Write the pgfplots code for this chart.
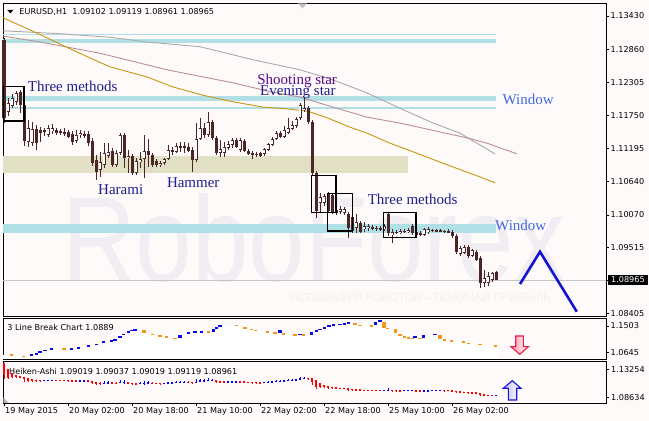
\documentclass[border=0pt]{standalone}
\usepackage{pgfplots}
\pgfplotsset{compat=1.18}
\usepackage{pgfplotstable}
\usepackage{fontspec}
\setmainfont{DejaVu Sans}
\newfontfamily\serfont{Liberation Serif}
\newfontfamily\wmfont{Liberation Sans}
\newcommand\tickfont{\fontsize{8.1bp}{9.7bp}\selectfont}
\definecolor{bgc}{HTML}{FFFAFA}
\definecolor{candle}{HTML}{4A2626}
\definecolor{cyanband}{HTML}{B0E0E6}
\definecolor{beige}{HTML}{E1E0C4}
\definecolor{maorange}{HTML}{C8960F}
\definecolor{marosy}{HTML}{BC8F8F}
\definecolor{magrey}{HTML}{A9A9A9}
\definecolor{navytxt}{HTML}{1E1E8C}
\definecolor{purptxt}{HTML}{5A0A8C}
\definecolor{wintxt}{HTML}{4169E1}
\definecolor{zig}{HTML}{1515D0}
\definecolor{hared}{HTML}{FF0000}
\definecolor{hablue}{HTML}{0000FF}
\definecolor{lborange}{HTML}{F7941E}
\definecolor{lbblue}{HTML}{0A0AE6}
\definecolor{wm}{HTML}{F0EEF2}
\definecolor{wm2}{HTML}{F5EFEF}

\pgfplotstableread{
i o h l c
0 1.13024 1.13058 1.11621 1.11706
1 1.11807 1.12044 1.11740 1.11959
2 1.11909 1.12111 1.11875 1.12044
3 1.11976 1.12162 1.11926 1.12128
4 1.12145 1.12179 1.11790 1.11926
5 1.11926 1.11993 1.11233 1.11317
6 1.11300 1.11672 1.11216 1.11537
7 1.11283 1.11638 1.11233 1.11520
8 1.11520 1.11588 1.11165 1.11283
9 1.11503 1.11554 1.11300 1.11452
10 1.11503 1.11537 1.11402 1.11469
11 1.11419 1.11588 1.11385 1.11537
12 1.11486 1.11604 1.11435 1.11537
13 1.11503 1.11537 1.11419 1.11460
14 1.11486 1.11520 1.11419 1.11452
15 1.11469 1.11537 1.11402 1.11452
16 1.11469 1.11503 1.11368 1.11385
17 1.11435 1.11486 1.11250 1.11300
18 1.11317 1.11503 1.11283 1.11419
19 1.11419 1.11503 1.11368 1.11452
20 1.11435 1.11486 1.11368 1.11402
21 1.11435 1.11486 1.11233 1.11283
22 1.11317 1.11368 1.10895 1.10945
23 1.10996 1.11081 1.10658 1.10793
24 1.10827 1.11131 1.10709 1.10962
25 1.10912 1.11283 1.10861 1.11114
26 1.11064 1.11283 1.11030 1.11131
27 1.11148 1.11199 1.10878 1.10912
28 1.10912 1.11165 1.10878 1.11114
29 1.11114 1.11452 1.11081 1.11419
30 1.11419 1.11452 1.10861 1.11030
31 1.11030 1.11165 1.10776 1.11064
32 1.11064 1.11097 1.10743 1.10776
33 1.10776 1.11030 1.10743 1.10979
34 1.10962 1.11131 1.10861 1.11013
35 1.11013 1.11419 1.10692 1.11148
36 1.11148 1.11351 1.10878 1.11081
37 1.11081 1.11114 1.10878 1.10912
38 1.10979 1.11013 1.10878 1.10912
39 1.10912 1.10979 1.10878 1.10945
40 1.10945 1.11030 1.10912 1.11013
41 1.11013 1.11250 1.10996 1.11165
42 1.11165 1.11216 1.11081 1.11131
43 1.11131 1.11283 1.11114 1.11233
44 1.11233 1.11300 1.11131 1.11199
45 1.11233 1.11300 1.11114 1.11199
46 1.11216 1.11283 1.11131 1.11148
47 1.11165 1.11216 1.10793 1.10996
48 1.10996 1.11621 1.10962 1.11351
49 1.11351 1.11706 1.11334 1.11537
50 1.11537 1.11621 1.11368 1.11419
51 1.11419 1.11807 1.11385 1.11638
52 1.11638 1.11672 1.11334 1.11368
53 1.11368 1.11402 1.11081 1.11114
54 1.11114 1.11334 1.11047 1.11182
55 1.11114 1.11300 1.11047 1.11216
56 1.11199 1.11317 1.11165 1.11266
57 1.11250 1.11368 1.11199 1.11334
58 1.11334 1.11368 1.11199 1.11216
59 1.11165 1.11368 1.11131 1.11334
60 1.11317 1.11351 1.11131 1.11148
61 1.11148 1.11182 1.11081 1.11097
62 1.11114 1.11148 1.11013 1.11081
63 1.11097 1.11131 1.11047 1.11081
64 1.11114 1.11131 1.11047 1.11064
65 1.11097 1.11199 1.11064 1.11182
66 1.11165 1.11283 1.11148 1.11266
67 1.11250 1.11385 1.11233 1.11351
68 1.11351 1.11486 1.11334 1.11452
69 1.11452 1.11486 1.11368 1.11385
70 1.11385 1.11571 1.11368 1.11503
71 1.11452 1.11706 1.11435 1.11537
72 1.11520 1.11655 1.11503 1.11588
73 1.11571 1.11723 1.11537 1.11689
74 1.11706 1.11959 1.11672 1.11926
75 1.11841 1.12061 1.11807 1.11875
76 1.11875 1.11909 1.11604 1.11638
77 1.11638 1.11672 1.10743 1.10776
78 1.10776 1.10810 1.10016 1.10134
79 1.10269 1.10438 1.10117 1.10371
80 1.10269 1.10421 1.10219 1.10388
81 1.10438 1.10455 1.10100 1.10134
82 1.10405 1.10438 1.10083 1.10117
83 1.10100 1.10202 1.10067 1.10151
84 1.10117 1.10219 1.10083 1.10168
85 1.10100 1.10202 1.10067 1.10168
86 1.10083 1.10117 1.09678 1.09847
87 1.10033 1.10083 1.09762 1.09796
88 1.09847 1.10083 1.09762 1.09948
89 1.09931 1.09965 1.09762 1.09779
90 1.09830 1.09948 1.09779 1.09881
91 1.09847 1.09914 1.09796 1.09881
92 1.09847 1.09898 1.09813 1.09855
93 1.09847 1.09881 1.09796 1.09838
94 1.09830 1.09881 1.09796 1.09847
95 1.09830 1.09914 1.09796 1.09881
96 1.10083 1.10117 1.09712 1.09762
97 1.09729 1.09830 1.09593 1.09779
98 1.09779 1.09813 1.09745 1.09771
99 1.09762 1.09830 1.09745 1.09796
100 1.09796 1.09830 1.09762 1.09788
101 1.09779 1.09847 1.09762 1.09813
102 1.09881 1.09914 1.09729 1.09762
103 1.09779 1.09813 1.09712 1.09729
104 1.09762 1.09796 1.09712 1.09729
105 1.09729 1.09847 1.09712 1.09830
106 1.09779 1.09864 1.09745 1.09830
107 1.09813 1.09830 1.09779 1.09804
108 1.09813 1.09830 1.09779 1.09796
109 1.09796 1.09830 1.09779 1.09804
110 1.09796 1.09813 1.09762 1.09788
111 1.09796 1.09830 1.09762 1.09779
112 1.09779 1.09813 1.09678 1.09712
113 1.09712 1.09745 1.09407 1.09441
114 1.09407 1.09543 1.09374 1.09509
115 1.09424 1.09560 1.09407 1.09526
116 1.09526 1.09560 1.09340 1.09374
117 1.09374 1.09492 1.09357 1.09475
118 1.09441 1.09475 1.09289 1.09306
119 1.09340 1.09374 1.08833 1.08917
120 1.08917 1.09137 1.08850 1.09002
121 1.08917 1.09103 1.08867 1.09036
122 1.08968 1.09103 1.08934 1.09086
123 1.09102 1.09119 1.08961 1.08965
}\candles

\pgfplotstableread{
i o c h l
0 1.1430 1.1235 1.1430 1.1162
1 1.1333 1.1189 1.1333 1.1174
2 1.1261 1.1198 1.1261 1.1187
3 1.1230 1.1205 1.1230 1.1193
4 1.1218 1.1201 1.1218 1.1179
5 1.1205 1.1162 1.1205 1.1123
6 1.1183 1.1143 1.1183 1.1122
7 1.1163 1.1142 1.1164 1.1123
8 1.1152 1.1139 1.1159 1.1117
9 1.1146 1.1145 1.1155 1.1130
10 1.1145 1.1148 1.1154 1.1140
11 1.1147 1.1148 1.1159 1.1138
12 1.1147 1.1152 1.1160 1.1144
13 1.1149 1.1148 1.1154 1.1142
14 1.1149 1.1147 1.1152 1.1142
15 1.1148 1.1147 1.1154 1.1140
16 1.1147 1.1143 1.1150 1.1137
17 1.1145 1.1137 1.1149 1.1125
18 1.1141 1.1138 1.1150 1.1128
19 1.1139 1.1144 1.1150 1.1137
20 1.1142 1.1143 1.1149 1.1137
21 1.1142 1.1136 1.1149 1.1123
22 1.1139 1.1113 1.1139 1.1089
23 1.1126 1.1088 1.1126 1.1066
24 1.1107 1.1091 1.1113 1.1071
25 1.1099 1.1104 1.1128 1.1086
26 1.1102 1.1113 1.1128 1.1102
27 1.1107 1.1103 1.1120 1.1088
28 1.1105 1.1102 1.1117 1.1088
29 1.1103 1.1127 1.1145 1.1103
30 1.1115 1.1119 1.1145 1.1086
31 1.1117 1.1101 1.1117 1.1078
32 1.1109 1.1092 1.1110 1.1074
33 1.1100 1.1088 1.1103 1.1074
34 1.1094 1.1099 1.1113 1.1086
35 1.1097 1.1107 1.1142 1.1069
36 1.1102 1.1111 1.1135 1.1088
37 1.1107 1.1100 1.1111 1.1088
38 1.1103 1.1095 1.1103 1.1088
39 1.1099 1.1093 1.1099 1.1088
40 1.1096 1.1097 1.1103 1.1091
41 1.1097 1.1111 1.1125 1.1097
42 1.1104 1.1115 1.1122 1.1104
43 1.1109 1.1119 1.1128 1.1109
44 1.1114 1.1122 1.1130 1.1113
45 1.1118 1.1121 1.1130 1.1111
46 1.1120 1.1119 1.1128 1.1113
47 1.1120 1.1104 1.1122 1.1079
48 1.1112 1.1123 1.1162 1.1096
49 1.1118 1.1148 1.1171 1.1118
50 1.1133 1.1149 1.1162 1.1133
51 1.1141 1.1156 1.1181 1.1138
52 1.1148 1.1150 1.1167 1.1133
53 1.1149 1.1124 1.1149 1.1108
54 1.1137 1.1117 1.1137 1.1105
55 1.1127 1.1117 1.1130 1.1105
56 1.1122 1.1124 1.1132 1.1117
57 1.1123 1.1129 1.1137 1.1120
58 1.1126 1.1128 1.1137 1.1120
59 1.1127 1.1125 1.1137 1.1113
60 1.1126 1.1124 1.1135 1.1113
61 1.1125 1.1113 1.1125 1.1108
62 1.1119 1.1109 1.1119 1.1101
63 1.1114 1.1109 1.1114 1.1105
64 1.1111 1.1109 1.1113 1.1105
65 1.1110 1.1114 1.1120 1.1106
66 1.1112 1.1122 1.1128 1.1112
67 1.1117 1.1130 1.1138 1.1117
68 1.1124 1.1141 1.1149 1.1124
69 1.1132 1.1142 1.1149 1.1132
70 1.1137 1.1146 1.1157 1.1137
71 1.1141 1.1153 1.1171 1.1141
72 1.1147 1.1157 1.1166 1.1147
73 1.1152 1.1163 1.1172 1.1152
74 1.1157 1.1182 1.1196 1.1157
75 1.1170 1.1190 1.1206 1.1170
76 1.1180 1.1176 1.1191 1.1160
77 1.1178 1.1121 1.1178 1.1074
78 1.1149 1.1043 1.1149 1.1002
79 1.1096 1.1030 1.1096 1.1012
80 1.1063 1.1032 1.1063 1.1022
81 1.1048 1.1028 1.1048 1.1010
82 1.1038 1.1026 1.1044 1.1008
83 1.1032 1.1013 1.1032 1.1007
84 1.1023 1.1015 1.1023 1.1008
85 1.1019 1.1013 1.1020 1.1007
86 1.1016 1.0993 1.1016 1.0968
87 1.1005 1.0992 1.1008 1.0976
88 1.0998 1.0991 1.1008 1.0976
89 1.0995 1.0986 1.0997 1.0976
90 1.0990 1.0986 1.0995 1.0978
91 1.0988 1.0986 1.0991 1.0980
92 1.0987 1.0985 1.0990 1.0981
93 1.0986 1.0984 1.0988 1.0980
94 1.0985 1.0984 1.0988 1.0980
95 1.0985 1.0986 1.0991 1.0980
96 1.0985 1.0992 1.1012 1.0971
97 1.0988 1.0973 1.0988 1.0959
98 1.0981 1.0978 1.0981 1.0975
99 1.0979 1.0978 1.0983 1.0975
100 1.0979 1.0980 1.0983 1.0976
101 1.0979 1.0980 1.0985 1.0976
102 1.0980 1.0982 1.0991 1.0973
103 1.0981 1.0976 1.0981 1.0971
104 1.0978 1.0975 1.0980 1.0971
105 1.0977 1.0978 1.0985 1.0971
106 1.0977 1.0980 1.0986 1.0975
107 1.0979 1.0981 1.0983 1.0978
108 1.0980 1.0981 1.0983 1.0978
109 1.0980 1.0981 1.0983 1.0978
110 1.0980 1.0979 1.0981 1.0976
111 1.0980 1.0979 1.0983 1.0976
112 1.0979 1.0975 1.0981 1.0968
113 1.0977 1.0958 1.0977 1.0941
114 1.0967 1.0946 1.0967 1.0937
115 1.0957 1.0948 1.0957 1.0941
116 1.0952 1.0945 1.0956 1.0934
117 1.0949 1.0942 1.0949 1.0936
118 1.0945 1.0938 1.0948 1.0929
119 1.0942 1.0912 1.0942 1.0883
120 1.0927 1.0898 1.0927 1.0885
121 1.0912 1.0898 1.0912 1.0887
122 1.0905 1.0902 1.0910 1.0893
123 1.0902 1.0904 1.0912 1.0896
}\ha

\pgfplotstableread{
x v e
1.875 1.0564 0.0017
4.875 1.0522 0.0017
15 1.0758 0.0042
35 1.1320 0.0053
37.1 1.1234 0.0017
39 1.1179 0.0017
40.6 1.1147 0.0017
42.75 1.1105 0.0017
51.1 1.1309 0.0017
58.1 1.1526 0.0017
60.25 1.1438 0.0017
61.9 1.1396 0.0017
62.9 1.1364 0.0017
65.9 1.1314 0.0028
67.75 1.1286 0.0017
69.9 1.1239 0.0028
72.75 1.1212 0.0017
74.9 1.1212 0.0017
87.75 1.1563 0.0028
89 1.1526 0.0017
91.9 1.1503 0.0017
95 1.1540 0.0092
95.9 1.1429 0.0017
97.9 1.1331 0.0065
99 1.1212 0.0017
100.1 1.1157 0.0017
101.1 1.1124 0.0017
102.1 1.1105 0.0017
104 1.1105 0.0017
109 1.1152 0.0060
110.1 1.1050 0.0017
111.9 1.1017 0.0017
114.9 1.0985 0.0017
116.1 1.0943 0.0017
119 1.0910 0.0017
122.9 1.0860 0.0028
}\lbo

\pgfplotstableread{
x v e
6.9 1.0564 0.0017
8.1 1.0606 0.0017
9 1.0666 0.0028
10.25 1.0716 0.0017
11.9 1.0768 0.0017
16.9 1.0758 0.0042
18.6 1.0800 0.0017
21.1 1.0855 0.0017
23.1 1.0910 0.0017
24.9 1.0985 0.0017
26.9 1.1017 0.0017
27.75 1.1055 0.0037
29 1.1152 0.0028
29.9 1.1234 0.0017
31.1 1.1304 0.0037
31.9 1.1364 0.0017
32.75 1.1374 0.0017
44 1.1163 0.0049
46.1 1.1286 0.0017
47.75 1.1318 0.0017
49.4 1.1318 0.0017
52.4 1.1352 0.0044
53.1 1.1433 0.0037
54 1.1503 0.0017
69 1.1330 0.0044
74 1.1234 0.0017
76.9 1.1265 0.0053
78.1 1.1341 0.0017
79 1.1396 0.0017
80.1 1.1448 0.0017
81.25 1.1503 0.0017
82.4 1.1535 0.0017
84 1.1558 0.0017
85.1 1.1577 0.0017
86.1 1.1610 0.0017
92.9 1.1584 0.0058
94 1.1665 0.0017
102.75 1.1152 0.0028
104.9 1.1168 0.0044
107.75 1.1234 0.0017
}\lbb

\pgfplotsset{
  panel/.style={scale only axis, width=603bp, anchor=south west, clip=false,
    xmin=-0.25, xmax=150.5, xtick=\empty,
    axis line style={black, line width=0.8bp},
    ytick pos=right, yticklabel pos=right, tick align=outside,
    major tick length=2.5bp, tick style={black, line width=0.6bp},
    yticklabel style={font=\tickfont, anchor=west, inner sep=0pt, xshift=2bp},
    xticklabel style={font=\tickfont, anchor=north west, inner sep=0pt, xshift=1bp, yshift=-1bp}},
  ebar/.style 2 args={color=#2, only marks, mark=text, text mark={}, forget plot,
    error bars/.cd, y dir=both, y explicit, error mark=none,
    error bar style={line width=#1, color=#2, solid}},
}

\begin{document}
\begin{tikzpicture}
\fill[bgc] (0,0) rectangle (649bp,421bp);
\begin{scope}[shift={(0bp,421bp)}, x=1bp, y=-1bp]
  \node[anchor=base west, inner sep=0pt, text=wm, font=\wmfont\fontsize{121bp}{121bp}\selectfont, xscale=0.84] at (62,282) {RoboForex};
  \node[anchor=base west, inner sep=0pt, text=wm2, font=\wmfont\fontsize{11.6bp}{12bp}\selectfont] at (290,302) {ИСПОЛЬЗУЙ РОБОТОВ – ПОЛУЧАЙ ПРИБЫЛЬ};
\end{scope}

% ---------------- main price panel
\begin{axis}[panel, at={(3bp,105bp)}, height=313bp, ymin=1.08360, ymax=1.13649,
  ytick={1.13430,1.12860,1.12305,1.11750,1.11195,1.10640,1.10070,1.09515,1.08965,1.08405},
  yticklabels={1.13430,1.12860,1.12305,1.11750,1.11195,1.10640,1.10070,1.09515,,1.08405}]
  % zones
  \addplot[fill=cyanband, draw=none, forget plot] coordinates {(-0.25,1.13131) (123,1.13131) (123,1.13109) (-0.25,1.13109)} --cycle;
  \addplot[fill=cyanband, draw=none, forget plot] coordinates {(-0.25,1.13041) (123,1.13041) (123,1.12978) (-0.25,1.12978)} --cycle;
  \addplot[fill=cyanband, draw=none, forget plot] coordinates {(-0.25,1.12078) (123,1.12078) (123,1.11993) (-0.25,1.11993)} --cycle;
  \addplot[fill=cyanband, draw=none, forget plot] coordinates {(-0.25,1.11886) (123,1.11886) (123,1.11864) (-0.25,1.11864)} --cycle;
  \addplot[fill=beige, draw=none, forget plot] coordinates {(-0.25,1.11064) (101,1.11064) (101,1.10781) (-0.25,1.10781)} --cycle;
  \addplot[fill=cyanband, draw=none, forget plot] coordinates {(-0.25,1.09909) (123,1.09909) (123,1.09767) (-0.25,1.09767)} --cycle;
  % moving averages
  \addplot[magrey, line width=0.9bp, mark=none, forget plot] coordinates {(-0.25,1.1318) (14,1.1313) (26.5,1.1307) (35.75,1.1299) (49,1.1291) (62.25,1.1269) (74,1.1252) (82.25,1.1235) (90.75,1.1213) (99,1.1187) (107.25,1.1162) (114,1.1145) (118.25,1.1128) (122.75,1.1110)};
  \addplot[marosy, line width=0.9bp, mark=none, forget plot] coordinates {(-0.25,1.1309) (9,1.1299) (24,1.1280) (40.75,1.1252) (57.25,1.1230) (67.25,1.1214) (74,1.1206) (82.25,1.1189) (90.75,1.1172) (99,1.1162) (109,1.1147) (115.75,1.1137) (120.75,1.1128) (128.25,1.1110)};
  \addplot[maorange, line width=0.9bp, mark=none, forget plot] coordinates {(-0.25,1.1340) (8.25,1.1314) (18.25,1.1282) (26.5,1.1257) (35.75,1.1240) (42.25,1.1223) (49.75,1.1209) (57.25,1.1198) (64.75,1.1189) (70.75,1.1186) (76,1.1182) (80.75,1.1171) (86.5,1.1155) (90.75,1.1145) (96.5,1.1128) (103.25,1.1111) (109,1.1096) (115.75,1.1079) (119,1.1071) (122.75,1.1061)};
  % bid line
  \addplot[gray!45, line width=0.8bp, mark=none, forget plot] coordinates {(-0.25,1.08965) (150.5,1.08965)};
  % candles
  \addplot[ebar={1bp}{candle}] table[x=i, y expr={(\thisrow{h}+\thisrow{l})/2}, y error expr={(\thisrow{h}-\thisrow{l})/2}] \candles;
  \addplot[ebar={3bp}{candle}] table[x=i, y expr={(\thisrow{o}+\thisrow{c})/2}, y error expr={max(abs(\thisrow{o}-\thisrow{c})/2,0.00008)}] \candles;
  \addplot[ebar={1.4bp}{white}] table[x=i, y expr={(\thisrow{o}+\thisrow{c})/2}, y error expr={max((\thisrow{c}-\thisrow{o})/2-0.00014,0)}] \candles;
  % pattern boxes
  \addplot[black, line width=1.2bp, mark=none, forget plot] coordinates {(-0.18,1.12235) (5,1.12235) (5,1.11655) (-0.18,1.11655)} --cycle;
  \addplot[black, line width=1.2bp, mark=none, forget plot] coordinates {(76.9,1.10731) (83,1.10731) (83,1.10105) (76.9,1.10105)} --cycle;
  \addplot[black, line width=1.2bp, mark=none, forget plot] coordinates {(80.9,1.10433) (87.1,1.10433) (87.1,1.09796) (80.9,1.09796)} --cycle;
  \addplot[black, line width=1.2bp, mark=none, forget plot] coordinates {(94.8,1.10112) (103,1.10112) (103,1.09683) (94.8,1.09683)} --cycle;
  % forecast zigzag
  \addplot[zig, line width=2.6bp, mark=none, forget plot] coordinates {(129,1.08900) (134,1.09446) (143.2,1.08432)};
  % labels
  \node[anchor=base west, inner sep=0pt, text=navytxt, font=\serfont\fontsize{15bp}{15bp}\selectfont] at (axis cs:5.93,1.12150) {Three methods};
  \node[anchor=base west, inner sep=0pt, text=navytxt, font=\serfont\fontsize{15bp}{15bp}\selectfont] at (axis cs:23.5,1.10405) {Harami};
  \node[anchor=base west, inner sep=0pt, text=navytxt, font=\serfont\fontsize{15bp}{15bp}\selectfont] at (axis cs:40.7,1.10535) {Hammer};
  \node[anchor=base west, inner sep=0pt, text=purptxt, font=\serfont\fontsize{15bp}{15bp}\selectfont] at (axis cs:63.3,1.12280) {Shooting star};
  \node[anchor=base west, inner sep=0pt, text=navytxt, font=\serfont\fontsize{15bp}{15bp}\selectfont] at (axis cs:64,1.12083) {Evening star};
  \node[anchor=base west, inner sep=0pt, text=wintxt, font=\serfont\fontsize{15bp}{15bp}\selectfont] at (axis cs:124.6,1.11926) {Window};
  \node[anchor=base west, inner sep=0pt, text=navytxt, font=\serfont\fontsize{15bp}{15bp}\selectfont] at (axis cs:90.9,1.10252) {Three methods};
  \node[anchor=base west, inner sep=0pt, text=wintxt, font=\serfont\fontsize{15bp}{15bp}\selectfont] at (axis cs:122.75,1.09801) {Window};
\end{axis}

% ---------------- 3 line break panel
\begin{axis}[panel, at={(3bp,62bp)}, height=40.5bp, ymin=1.0434, ymax=1.1746,
  ytick={1.1503,1.0645}, yticklabels={1.1503,1.0645}]
  \addplot[fill=white, draw=none, forget plot] coordinates {(-0.25,1.0564) (2,1.0564) (4.9,1.0522) (6.9,1.0564) (9,1.0666) (11.9,1.0768) (17,1.0800) (21,1.0855) (25,1.0985) (28,1.1092) (30,1.1234) (33,1.1374) (35,1.1373) (37,1.1234) (41,1.1147) (43,1.1105) (44,1.1212) (46,1.1286) (50,1.1318) (53,1.1470) (54,1.1503) (58,1.1526) (60,1.1438) (63,1.1364) (68,1.1286) (70,1.1267) (73,1.1212) (75,1.1212) (77,1.1318) (81,1.1503) (86,1.1610) (88,1.1591) (92,1.1503) (94,1.1665) (96,1.1429) (100,1.1157) (102,1.1105) (104,1.1212) (108,1.1234) (110,1.1050) (115,1.0985) (119,1.0910) (123.5,1.0860) (123.5,1.0434) (-0.25,1.0434)} --cycle;
  \addplot[ebar={3.6bp}{lborange}] table[x=x, y=v, y error=e] \lbo;
  \addplot[ebar={3.6bp}{lbblue}] table[x=x, y=v, y error=e] \lbb;
\end{axis}

% ---------------- Heiken-Ashi panel
\begin{axis}[panel, at={(3bp,17.5bp)}, height=41.8bp, ymin=1.07644, ymax=1.14541,
  ytick={1.13254,1.08634}, yticklabels={1.13254,1.08634},
  xtick={0,16,32,48,64,80,96,112}, xtick pos=bottom, major tick length=3bp,
  xticklabels={19 May 2015,20 May 02:00,20 May 18:00,21 May 10:00,22 May 02:00,22 May 18:00,25 May 10:00,26 May 02:00}]
  \addplot[ebar={0.8bp}{hared}] table[x=i, y expr={(\thisrow{h}+\thisrow{l})/2}, y error expr={(\thisrow{h}-\thisrow{l})/2}] \ha;
  \addplot[ebar={2.6bp}{hared}] table[x=i, y expr={(\thisrow{o}+\thisrow{c})/2}, y error expr={max(abs(\thisrow{o}-\thisrow{c})/2,0.0006)}] \ha;
  \addplot[ebar={0.8bp}{hablue}] table[x=i, y expr={(\thisrow{h}+\thisrow{l})/2}, y error expr={(\thisrow{c}>\thisrow{o})*(\thisrow{h}-\thisrow{l})/2}] \ha;
  \addplot[ebar={2.6bp}{hablue}] table[x=i, y expr={(\thisrow{o}+\thisrow{c})/2}, y error expr={(\thisrow{c}>\thisrow{o})*max(abs(\thisrow{o}-\thisrow{c})/2,0.0006)}] \ha;
\end{axis}

% ---------------- annotations in pixel coordinates
\begin{scope}[shift={(0bp,421bp)}, x=1bp, y=-1bp]
  \fill[black] (7.3,10) -- (13.3,10) -- (10.3,13.4) -- cycle;
  \node[anchor=west, inner sep=0pt, font=\tickfont] at (19.3,11.7) {EURUSD,H1\ \ 1.09102 1.09119 1.08961 1.08965};
  \fill[gray!50] (298,3.3) -- (307,3.3) -- (302.5,8.3) -- cycle;
  \node[anchor=west, inner sep=0pt, font=\tickfont] at (7.3,327.5) {3 Line Break Chart 1.0889};
  \node[anchor=west, inner sep=0pt, font=\tickfont] at (9,371) {Heiken-Ashi 1.09019 1.09037 1.09019 1.09119 1.08961};
  \fill[gray!60] (3.5,403) -- (8.5,403) -- (3.5,397.5) -- cycle;
  \node[anchor=west, fill=black, text=white, font=\tickfont, inner xsep=3.5bp, inner ysep=0pt, minimum height=10bp] at (607.5,280) {1.08965};
  % red down arrow
  \draw[draw={rgb,255:red,230;green,30;blue,70}, line width=1.1bp, left color={rgb,255:red,255;green,150;blue,170}, right color=white]
    (515.7,336) -- (523.3,336) -- (523.3,346.7) -- (528.3,346.7) -- (519.7,354.3) -- (511,346.7) -- (515.7,346.7) -- cycle;
  % blue up arrow
  \draw[draw={rgb,255:red,20;green,20;blue,220}, line width=1.1bp, left color={rgb,255:red,200;green,190;blue,255}, right color=white]
    (512.3,380.7) -- (521,388.3) -- (516.7,388.3) -- (516.7,400) -- (508.3,400) -- (508.3,388.3) -- (503.3,388.3) -- cycle;
\end{scope}
\pgfresetboundingbox
\path[use as bounding box] (0,0) rectangle (649bp,421bp);
\end{tikzpicture}
\end{document}
